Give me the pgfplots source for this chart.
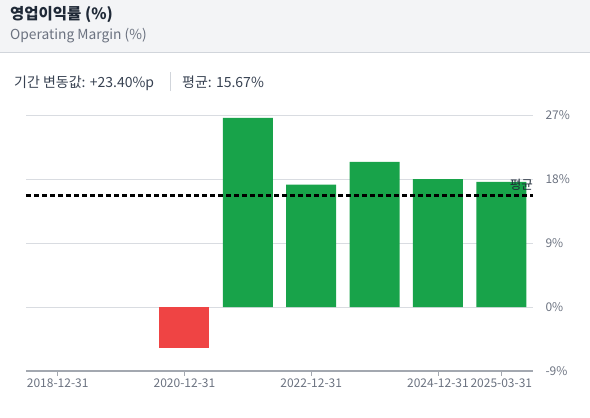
\documentclass[border=0pt]{standalone}
\usepackage{fontspec}
\setmainfont{Noto Sans CJK KR}
\usepackage{pgfplots}
\pgfplotsset{compat=1.18}
\definecolor{hdrbg}{HTML}{F3F4F6}
\definecolor{hdrline}{HTML}{D1D5DB}
\definecolor{txtdark}{HTML}{1F2937}
\definecolor{txtmid}{HTML}{374151}
\definecolor{txtgray}{HTML}{6B7280}
\definecolor{gridc}{HTML}{D9DCE1}
\definecolor{axisc}{HTML}{A3A8B0}
\definecolor{barg}{HTML}{18A34A}
\definecolor{barr}{HTML}{EF4444}
\begin{document}
\begin{tikzpicture}[x=1bp,y=1bp]
\path[use as bounding box] (0,0) rectangle (590,417);
\fill[hdrbg] (0,365) rectangle (590,417);
\draw[hdrline, line width=1bp] (0,364.5) -- (590,364.5);
\node[anchor=base west, inner sep=0, text=txtdark, font=\fontsize{15.5bp}{18bp}\selectfont\bfseries] at (10,397) {영업이익률 (\%)};
\node[anchor=base west, inner sep=0, text=txtgray, font=\fontsize{13.8bp}{16bp}\selectfont] at (10,378) {Operating Margin (\%)};
\node[anchor=base west, inner sep=0, text=txtmid, font=\fontsize{14bp}{16bp}\selectfont] at (14,330) {기간 변동값: +23.40\%p};
\draw[hdrline, line width=1bp] (170,326) -- (170,345);
\node[anchor=base west, inner sep=0, text=txtmid, font=\fontsize{14bp}{16bp}\selectfont] at (182,330) {평균: 15.67\%};
\begin{axis}[
  at={(26bp,46bp)}, anchor=south west,
  scale only axis, width=507bp, height=256bp,
  xmin=-0.5, xmax=7.5, ymin=-9, ymax=27,
  ybar, bar shift=0pt, bar width=0.79,
  axis x line*=bottom, axis y line*=right,
  y axis line style={draw=none},
  x axis line style={color=axisc, line width=1.2bp},
  xtick={0,2,4,6,7},
  xticklabels={2018-12-31,2020-12-31,2022-12-31,2024-12-31,2025-03-31},
  xtick style={color=axisc, line width=0.8bp},
  tick align=outside, major tick length=5bp,
  ytick={-9,0,9,18,27},
  ytick style={draw=none},
  yticklabel={\pgfmathprintnumber{\tick}\%},
  ymajorgrids, grid style={color=gridc, line width=0.8bp},
  /pgf/number format/assume math mode=true,
  ticklabel style={text=txtgray, font=\fontsize{12bp}{14bp}\selectfont},
  xticklabel style={yshift=1bp},
  yticklabel style={xshift=4bp},
  clip=false,
]
\addplot[fill=barr, draw=none] coordinates {(2,-5.8)};
\addplot[fill=barg, draw=none] coordinates {(3,26.6) (4,17.2) (5,20.4) (6,18.0) (7,17.6)};
\addplot[sharp plot, draw=black, line width=2.2bp, dash pattern=on 5bp off 3bp, forget plot] coordinates {(-0.5,15.67) (7.5,15.67)};
\node[anchor=base east, inner sep=0, text=txtdark, font=\fontsize{12.5bp}{14bp}\selectfont] at (axis cs:7.5,15.67) [yshift=6bp] {평균};
\end{axis}
\end{tikzpicture}
\end{document}
